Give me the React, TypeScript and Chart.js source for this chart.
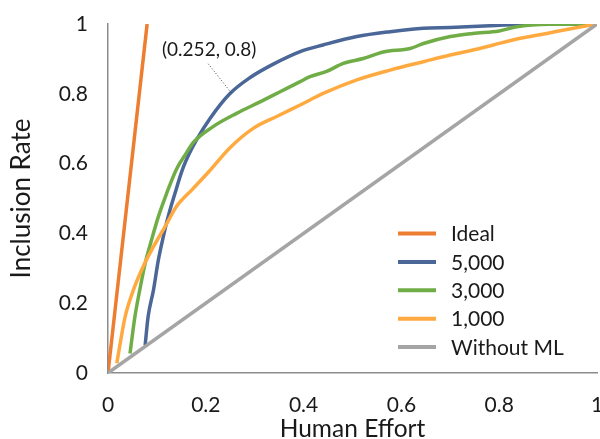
import React, { useEffect, useRef } from "react";
import { Chart, registerables } from "chart.js";

Chart.register(...registerables);

// ---- data ----
const seriesNames = ["Ideal", "5,000", "3,000", "1,000", "Without ML"];
const seriesColors = ["#ED7D31", "#4A6797", "#70AD47", "#FFAA40", "#A5A5A5"];

const idealX = [0, 0.08];
const idealY = [0, 1];

const s5000X = [0.076, 0.082, 0.093, 0.103, 0.113, 0.123, 0.137, 0.152, 0.166, 0.181, 0.209, 0.249, 0.29, 0.338, 0.393, 0.44, 0.509, 0.577, 0.645, 0.7, 0.781, 0.883, 1.0];
const s5000Y = [0.08, 0.161, 0.238, 0.324, 0.39, 0.448, 0.515, 0.582, 0.628, 0.668, 0.73, 0.8, 0.846, 0.885, 0.921, 0.94, 0.964, 0.978, 0.988, 0.99, 0.995, 1.0, 1.0];

const s3000X = [0.045, 0.055, 0.065, 0.076, 0.089, 0.103, 0.12, 0.14, 0.161, 0.174, 0.215, 0.263, 0.311, 0.352, 0.393, 0.413, 0.447, 0.481, 0.522, 0.563, 0.618, 0.645, 0.7, 0.746, 0.8, 0.836, 0.904, 1.0];
const s3000Y = [0.056, 0.161, 0.238, 0.314, 0.381, 0.448, 0.515, 0.584, 0.632, 0.66, 0.706, 0.744, 0.777, 0.806, 0.835, 0.849, 0.864, 0.887, 0.901, 0.92, 0.93, 0.944, 0.964, 0.973, 0.98, 0.992, 0.999, 1.0];

const s1000X = [0.018, 0.035, 0.052, 0.072, 0.093, 0.117, 0.14, 0.171, 0.207, 0.249, 0.297, 0.345, 0.393, 0.44, 0.509, 0.577, 0.645, 0.7, 0.733, 0.788, 0.843, 0.897, 0.952, 0.979, 1.0];
const s1000Y = [0.028, 0.161, 0.238, 0.305, 0.362, 0.42, 0.477, 0.524, 0.578, 0.645, 0.701, 0.735, 0.768, 0.801, 0.84, 0.868, 0.892, 0.911, 0.921, 0.94, 0.959, 0.973, 0.988, 0.995, 1.0];

const noMlX = [0, 1];
const noMlY = [0, 1];

const xTicks = [0, 0.2, 0.4, 0.6, 0.8, 1];
const yTicks = [0, 0.2, 0.4, 0.6, 0.8, 1];

const annotationPoint = [0.252, 0.8];
const annotationText = "(0.252, 0.8)";

const FONT = "Lato, 'Open Sans', sans-serif";

const zip = (xs: number[], ys: number[]) => xs.map((x, i) => ({ x, y: ys[i] }));

const legendPlugin = {
  id: "insideLegend",
  afterDraw(chart: any) {
    const ctx = chart.ctx;
    ctx.save();
    ctx.font = `21px ${FONT}`;
    ctx.textBaseline = "middle";
    ctx.fillStyle = "#1a1a1a";
    chart.data.datasets.forEach((ds: any, i: number) => {
      const y = 233.5 + i * 28.4;
      ctx.strokeStyle = ds.borderColor;
      ctx.lineWidth = 4;
      ctx.beginPath();
      ctx.moveTo(398, y);
      ctx.lineTo(436, y);
      ctx.stroke();
      ctx.fillText(ds.label, 451, y + 1);
    });
    ctx.restore();
  },
};

const annotationPlugin = {
  id: "pointLabel",
  afterDatasetsDraw(chart: any) {
    const ctx = chart.ctx;
    const px = chart.scales.x.getPixelForValue(annotationPoint[0]);
    const py = chart.scales.y.getPixelForValue(annotationPoint[1]);
    ctx.save();
    ctx.strokeStyle = "#404040";
    ctx.lineWidth = 1;
    ctx.setLineDash([1, 2]);
    ctx.beginPath();
    ctx.moveTo(px - 23, py - 30);
    ctx.lineTo(px, py - 1);
    ctx.stroke();
    ctx.setLineDash([]);
    ctx.font = `19px ${FONT}`;
    ctx.fillStyle = "#1a1a1a";
    ctx.textAlign = "center";
    ctx.textBaseline = "middle";
    ctx.fillText(annotationText, px - 22, py - 44);
    ctx.restore();
  },
};

export default function App() {
  const ref = useRef<HTMLCanvasElement | null>(null);

  useEffect(() => {
    if (!ref.current) return;
    const xsets = [idealX, s5000X, s3000X, s1000X, noMlX];
    const ysets = [idealY, s5000Y, s3000Y, s1000Y, noMlY];
    const chart = new Chart(ref.current, {
      type: "line",
      data: {
        datasets: seriesNames.map((name, i) => ({
          label: name,
          data: zip(xsets[i], ysets[i]),
          borderColor: seriesColors[i],
          backgroundColor: seriesColors[i],
          borderWidth: 3.5,
          pointRadius: 0,
          cubicInterpolationMode: "monotone",
          fill: false,
          order: 4 - i,
        })),
      },
      options: {
        animation: false,
        responsive: false,
        layout: { padding: { left: 0, right: 3, top: 24, bottom: 0 } },
        plugins: { legend: { display: false }, tooltip: { enabled: false } },
        scales: {
          x: {
            type: "linear",
            min: 0,
            max: 1,
            afterBuildTicks: (s: any) => {
              s.ticks = xTicks.map((v) => ({ value: v }));
            },
            afterFit: (s: any) => {
              s.height = 66;
              s.paddingLeft = 0;
              s.paddingRight = 0;
            },
            grid: { display: false, drawTicks: false, tickLength: 0 },
            border: { display: true, color: "#8c8c8c", width: 1.5 },
            ticks: {
              padding: 20,
              color: "#1a1a1a",
              font: { family: FONT, size: 21 },
              maxRotation: 0,
              callback: (v: any) => String(v),
            },
            title: {
              display: true,
              text: "Human Effort",
              color: "#1a1a1a",
              font: { family: FONT, size: 24.5, lineHeight: 1 },
              padding: { top: 0, bottom: -2 },
            },
          },
          y: {
            type: "linear",
            min: 0,
            max: 1,
            afterBuildTicks: (s: any) => {
              s.ticks = yTicks.map((v) => ({ value: v }));
            },
            afterFit: (s: any) => {
              s.width = 108;
              s.paddingTop = 0;
              s.paddingBottom = 0;
            },
            grid: { display: false, drawTicks: false, tickLength: 0 },
            border: { display: true, color: "#8c8c8c", width: 1.5 },
            ticks: {
              padding: 20,
              color: "#1a1a1a",
              font: { family: FONT, size: 21 },
              callback: (v: any) => String(v),
            },
            title: {
              display: true,
              text: "Inclusion Rate",
              color: "#1a1a1a",
              font: { family: FONT, size: 26, lineHeight: 1 },
              padding: { top: 9, bottom: 0 },
            },
          },
        },
      },
      plugins: [annotationPlugin, legendPlugin],
    } as any);
    return () => chart.destroy();
  }, []);

  return (
    <div style={{ position: "absolute", left: 0, top: 0, width: 600, height: 439, background: "#fff" }}>
      <canvas ref={ref} width={600} height={439} />
    </div>
  );
}
